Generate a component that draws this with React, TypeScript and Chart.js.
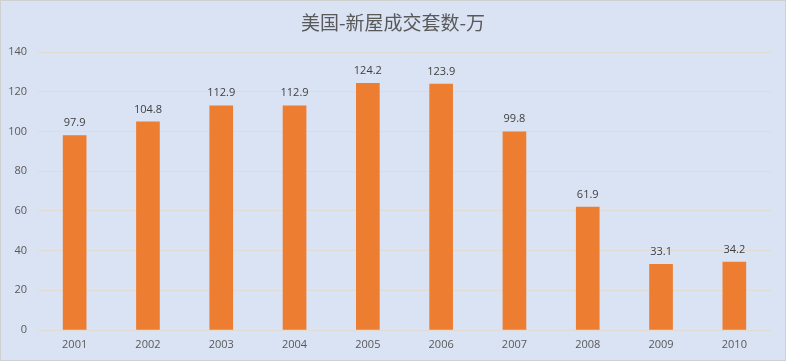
import React, { useEffect, useRef } from "react";
import { Chart, registerables } from "chart.js";

Chart.register(...registerables);

const TITLE = "美国-新屋成交套数-万";
const YEARS = ["2001", "2002", "2003", "2004", "2005", "2006", "2007", "2008", "2009", "2010"];
const SALES = [97.9, 104.8, 112.9, 112.9, 124.2, 123.9, 99.8, 61.9, 33.1, 34.2];
const Y_MIN = 0;
const Y_MAX = 140;
const Y_STEP = 20;

const BG = "#dae3f3";
const BAR = "#ed7d31";
const TEXT = "#595959";
const GRID = "#e0dbd3";

const decorPlugin = {
  id: "decor",
  beforeDraw(chart: any) {
    const ctx = chart.ctx;
    ctx.save();
    ctx.fillStyle = BG;
    ctx.fillRect(0, 0, chart.width, chart.height);
    ctx.strokeStyle = "#d0d0d0";
    ctx.lineWidth = 1;
    ctx.strokeRect(0.5, 0.5, chart.width - 1, chart.height - 1);
    ctx.fillStyle = TEXT;
    ctx.font = '19px "Noto Sans CJK SC", "Noto Sans", sans-serif';
    ctx.textAlign = "center";
    ctx.textBaseline = "middle";
    ctx.fillText(TITLE, chart.width / 2, 23);
    ctx.restore();
  },
  afterDatasetsDraw(chart: any) {
    const ctx = chart.ctx;
    ctx.save();
    ctx.fillStyle = "#404040";
    ctx.font = '11px "Open Sans", "Noto Sans", sans-serif';
    ctx.textAlign = "center";
    ctx.textBaseline = "bottom";
    const meta = chart.getDatasetMeta(0);
    meta.data.forEach((bar: any, i: number) => {
      const v = chart.data.datasets[0].data[i];
      ctx.fillText(v.toFixed(1), bar.x, bar.y - 7);
    });
    ctx.restore();
  },
};

export default function App() {
  const ref = useRef<HTMLCanvasElement>(null);
  useEffect(() => {
    if (!ref.current) return;
    const chart = new Chart(ref.current, {
      type: "bar",
      data: {
        labels: YEARS,
        datasets: [
          {
            data: SALES,
            backgroundColor: BAR,
            barThickness: 23,
          },
        ],
      },
      options: {
        animation: false,
        responsive: false,
        layout: { padding: { top: 52, right: 15, left: 0, bottom: 0 } },
        plugins: {
          legend: { display: false },
          title: { display: false },
          tooltip: { enabled: false },
        },
        scales: {
          x: {
            grid: { display: false, drawTicks: false },
            border: { display: false },
            ticks: {
              color: TEXT,
              font: { family: '"Open Sans", "Noto Sans", sans-serif', size: 11 },
              padding: 8,
            },
            afterFit(scale: any) {
              scale.height = 31;
            },
          },
          y: {
            min: Y_MIN,
            max: Y_MAX,
            grid: { color: GRID, drawTicks: false },
            border: { display: false },
            ticks: {
              stepSize: Y_STEP,
              color: TEXT,
              font: { family: '"Open Sans", "Noto Sans", sans-serif', size: 11 },
              padding: 11,
            },
            afterFit(scale: any) {
              scale.width = 38;
            },
          },
        },
      },
      plugins: [decorPlugin],
    });
    return () => chart.destroy();
  }, []);
  return (
    <div style={{ position: "fixed", left: 0, top: 0, width: 786, height: 361 }}>
      <canvas ref={ref} width={786} height={361} style={{ display: "block" }} />
    </div>
  );
}
